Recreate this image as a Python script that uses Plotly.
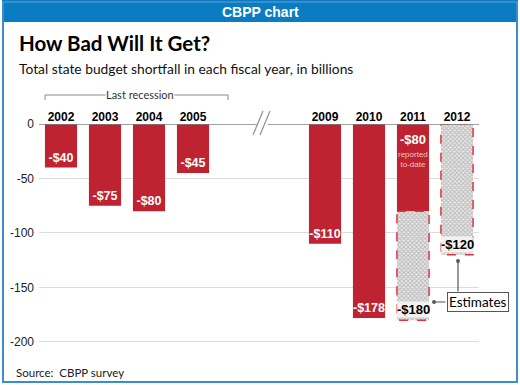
import plotly.graph_objects as go

years = ['2002', '2003', '2004', '2005', '2009', '2010', '2011', '2012']
reported = [-40, -75, -80, -45, -110, -178, -80, None]
estimated = [None, None, None, None, None, None, -180, -120]
y_ticks = [0, -50, -100, -150, -200]

RED = '#bf2230'
W_FIG, H_FIG = 520, 385
L, T, PW, PH = 39, 124, 440, 231

def px(x):
    return (x - L) / PW

def py(y):
    return (T + PH - y) / PH

# slot positions: a gap of two empty slots between 2005 and 2009
pos = [i if i < 4 else i + 2 for i in range(len(years))]
BW = 0.73
NARROW = 'Liberation Sans Narrow, Arial Narrow, Liberation Sans, sans-serif'

fig = go.Figure()

red_x = [p for p, v in zip(pos, reported) if v is not None]
red_y = [v for v in reported if v is not None]
red_txt = [('' if estimated[i] is not None else f'<b>-${abs(v)}</b>') for i, v in enumerate(reported) if v is not None]
fig.add_trace(go.Bar(x=red_x, y=red_y, width=BW, marker=dict(color=RED, line=dict(width=0)),
                     text=red_txt, textposition='inside', insidetextanchor='end', textangle=0,
                     textfont=dict(color='white', size=12.5, family=NARROW),
                     constraintext='none', hoverinfo='skip', showlegend=False))

est_x, est_base, est_h = [], [], []
for p, r, e in zip(pos, reported, estimated):
    if e is not None:
        b = r if r is not None else 0
        est_x.append(p); est_base.append(b); est_h.append(e - b)
fig.add_trace(go.Bar(x=est_x, y=est_h, base=est_base, width=BW,
                     marker=dict(color='#e0e0e0', line=dict(width=0),
                                 pattern=dict(shape='x', fgcolor='#8c8c8c', bgcolor='#e8e8e8', size=3, solidity=0.5)),
                     hoverinfo='skip', showlegend=False))

shapes = []
# header and frame
shapes.append(dict(type='rect', xref='paper', yref='paper', x0=px(2), x1=px(518), y0=py(22), y1=py(0),
                   fillcolor='#0a7cc1', line=dict(width=0)))
shapes.append(dict(type='rect', xref='paper', yref='paper', x0=px(3), x1=px(517), y0=py(382), y1=py(2),
                   fillcolor='rgba(0,0,0,0)', line=dict(color='#3b8dcc', width=2)))
# dashed outline of estimates
for x, b, h in zip(est_x, est_base, est_h):
    shapes.append(dict(type='rect', xref='x', yref='y', x0=x - BW / 2, x1=x + BW / 2, y0=b, y1=b + h,
                       line=dict(color='#e3323f', width=1.5, dash='dash'), fillcolor='rgba(0,0,0,0)'))
# broken zero line
shapes.append(dict(type='line', xref='x', yref='y', x0=-0.5, x1=4.45, y0=0, y1=0, line=dict(color='#808080', width=1.5)))
shapes.append(dict(type='line', xref='x', yref='y', x0=4.70, x1=9.5, y0=0, y1=0, line=dict(color='#808080', width=1.5)))
shapes.append(dict(type='line', xref='paper', yref='paper', x0=px(253), x1=px(263), y0=py(135), y1=py(111), line=dict(color='#909090', width=1.2)))
shapes.append(dict(type='line', xref='paper', yref='paper', x0=px(260), x1=px(270), y0=py(135), y1=py(111), line=dict(color='#909090', width=1.2)))
# last recession bracket
shapes.append(dict(type='path', xref='paper', yref='paper',
                   path=f'M {px(45)} {py(100)} L {px(45)} {py(95)} L {px(228)} {py(95)} L {px(228)} {py(100)}',
                   line=dict(color='#8a8a8a', width=1)))

ann = []
def pann(x, y, text, font, xanchor='center', **kw):
    d = dict(xref='paper', yref='paper', x=px(x), y=py(y), xanchor=xanchor, yanchor='middle',
             text=text, showarrow=False, font=font)
    d.update(kw)
    ann.append(d)

pann(260, 12, '<b>CBPP chart</b>', dict(color='white', size=14, family='Liberation Sans, Arial, sans-serif'))
pann(17, 43, '<b>How Bad Will It Get?</b>', dict(color='black', size=20.5, family='Lato, sans-serif'), 'left')
pann(17, 68, 'Total state budget shortfall in each fiscal year, in billions',
     dict(color='#111', size=13.8, family='Lato, sans-serif'), 'left')
pann(140, 95, 'Last recession', dict(color='#333', size=11, family='Lato, sans-serif'), bgcolor='white', borderpad=0)
pann(14, 372, 'Source:  CBPP survey', dict(color='#222', size=11.5, family='Lato, sans-serif'), 'left')
pann(477.5, 301.5, 'Estimates', dict(color='black', size=13.5, family='Lato, sans-serif'),
     bgcolor='white', bordercolor='#555', borderwidth=1, borderpad=1)

# 2011 reported label (top of bar)
for p, r, e in zip(pos, reported, estimated):
    if r is not None and e is not None:
        ann.append(dict(x=p, y=0, yanchor='top', yshift=-6, showarrow=False,
                        text=f'<b>-${abs(r)}</b>', font=dict(color='white', size=13, family=NARROW)))
        ann.append(dict(x=p, y=0, yanchor='top', yshift=-24, showarrow=False,
                        text='reported<br>to-date', font=dict(color='#f0c0c0', size=8, family=NARROW)))
# estimate labels
for x, b, h in zip(est_x, est_base, est_h):
    ann.append(dict(x=x, y=b + h, yanchor='bottom', yshift=2, showarrow=False, bgcolor='rgba(255,255,255,0.7)',
                    borderpad=0, text=f'<b>-${abs(b + h)}</b>', font=dict(color='black', size=13, family=NARROW)))
# Estimates callout arrows
ann.append(dict(xref='paper', yref='paper', x=px(434), y=py(302), ax=13, ay=0, text='', showarrow=True,
                arrowhead=6, arrowsize=0.8, arrowwidth=1.2, arrowcolor='#555'))
ann.append(dict(xref='paper', yref='paper', x=px(458), y=py(261), ax=0, ay=32, text='', showarrow=True,
                arrowhead=6, arrowsize=0.8, arrowwidth=1.2, arrowcolor='#555'))

fig.update_layout(
    width=W_FIG, height=H_FIG, margin=dict(l=L, r=W_FIG - L - PW, t=T, b=H_FIG - T - PH, autoexpand=False),
    paper_bgcolor='white', plot_bgcolor='white', barmode='overlay',
    shapes=shapes, annotations=ann,
    modebar=dict(bgcolor='rgba(0,0,0,0)', color='rgba(0,0,0,0)', activecolor='rgba(0,0,0,0)'),
    xaxis=dict(range=[-0.5, 9.5], side='top', tickvals=pos, ticktext=[f'<b>{y}</b>' for y in years],
               tickfont=dict(color='black', size=12, family=NARROW), showgrid=False, zeroline=False,
               showline=False, ticks='', fixedrange=True),
    yaxis=dict(range=[-212, 0], tickvals=y_ticks, ticktext=[str(v) for v in y_ticks],
               tickfont=dict(color='#222', size=12, family=NARROW), showgrid=True, gridcolor='#dcdcdc',
               gridwidth=1, zeroline=False, showline=False, ticks='', ticklabelstandoff=4, fixedrange=True),
)

fig.write_html('out.html', config={'displaylogo': False},
               post_script="document.body.style.margin='0';document.body.style.padding='0';")
